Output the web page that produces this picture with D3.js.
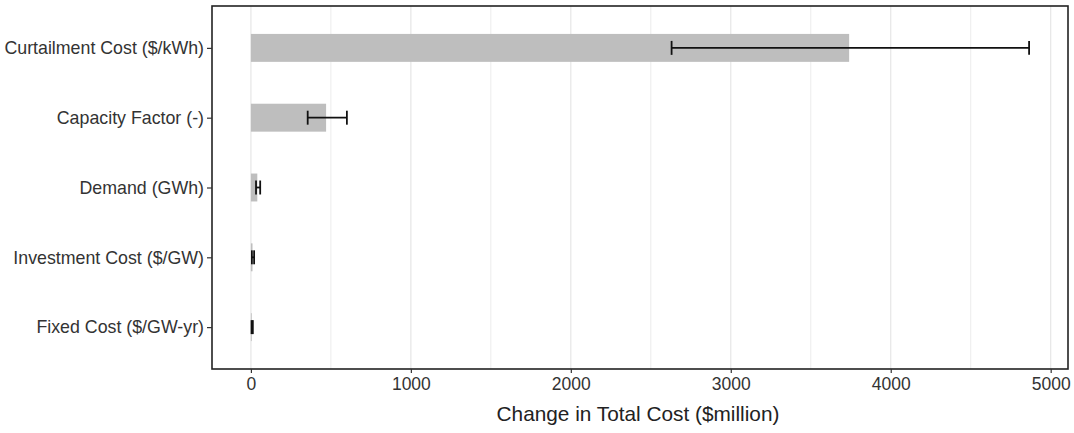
<!DOCTYPE html>
<html>
<head>
<meta charset="utf-8">
<script src="https://cdn.jsdelivr.net/npm/d3@7"></script>
<style>
  body { margin: 0; background: #fff; }
  text { font-family: "Liberation Sans", Arial, sans-serif; }
</style>
</head>
<body>
<div id="chart"></div>
<script>
// values
const categories = [
  "Curtailment Cost ($/kWh)",
  "Capacity Factor (-)",
  "Demand (GWh)",
  "Investment Cost ($/GW)",
  "Fixed Cost ($/GW-yr)"
];
const changeValues = [3740, 470, 40, 10, 5];
const errLow = [2630, 355, 32, 6, 4];
const errHigh = [4865, 600, 58, 20, 12];
const xTicks = [0, 1000, 2000, 3000, 4000, 5000];
const xMinor = [500, 1500, 2500, 3500, 4500];

const data = categories.map(function (c, i) {
  return { name: c, value: changeValues[i], lo: errLow[i], hi: errHigh[i] };
});

const W = 1074, H = 433;
const margin = { top: 6, right: 6, bottom: 64, left: 212 };
const width = W - margin.left - margin.right;
const height = H - margin.top - margin.bottom;

const svg = d3.select("#chart").append("svg")
  .attr("width", W)
  .attr("height", H);

const g = svg.append("g")
  .attr("transform", `translate(${margin.left},${margin.top})`);

// ggplot-like 5% expansion on the continuous axis
const xmax = d3.max(errHigh);
const x = d3.scaleLinear()
  .domain([-0.05 * xmax, xmax * 1.05])
  .range([0, width]);

// discrete axis with 0.6 expansion each side
const y = d3.scalePoint()
  .domain(categories)
  .range([0, height])
  .padding(0.6);
const step = y.step();

// grid
g.selectAll(".minor")
  .data(xMinor)
  .join("line")
  .attr("x1", d => x(d)).attr("x2", d => x(d))
  .attr("y1", 0).attr("y2", height)
  .attr("stroke", "#ececec")
  .attr("stroke-width", 1);

g.selectAll(".major")
  .data(xTicks)
  .join("line")
  .attr("x1", d => x(d)).attr("x2", d => x(d))
  .attr("y1", 0).attr("y2", height)
  .attr("stroke", "#e6e6e6")
  .attr("stroke-width", 1.2);

// bars
g.selectAll(".bar")
  .data(data)
  .join("rect")
  .attr("x", x(0))
  .attr("y", d => y(d.name) - step * 0.2)
  .attr("width", d => x(d.value) - x(0))
  .attr("height", step * 0.4)
  .attr("fill", "#bebebe");

// error bars
const capH = step * 0.1;
const eb = g.selectAll(".err")
  .data(data)
  .join("g")
  .attr("stroke", "#111")
  .attr("stroke-width", 1.8);

eb.append("line")
  .attr("x1", d => x(d.lo)).attr("x2", d => x(d.hi))
  .attr("y1", d => y(d.name)).attr("y2", d => y(d.name));
eb.append("line")
  .attr("x1", d => x(d.lo)).attr("x2", d => x(d.lo))
  .attr("y1", d => y(d.name) - capH).attr("y2", d => y(d.name) + capH);
eb.append("line")
  .attr("x1", d => x(d.hi)).attr("x2", d => x(d.hi))
  .attr("y1", d => y(d.name) - capH).attr("y2", d => y(d.name) + capH);

// panel border
g.append("rect")
  .attr("x", 0).attr("y", 0)
  .attr("width", width).attr("height", height)
  .attr("fill", "none")
  .attr("stroke", "#222")
  .attr("stroke-width", 1.6);

// axes
const xAxis = g.append("g")
  .attr("transform", `translate(0,${height})`)
  .call(d3.axisBottom(x).tickValues(xTicks).tickSize(4).tickPadding(5).tickFormat(d3.format("d")));
xAxis.select(".domain").remove();
xAxis.selectAll("line").attr("stroke", "#333").attr("stroke-width", 1.2);
xAxis.selectAll("text").attr("fill", "#333").style("font-size", "17.5px");

const yAxis = g.append("g")
  .call(d3.axisLeft(y).tickSize(5).tickPadding(3));
yAxis.select(".domain").remove();
yAxis.selectAll("line").attr("stroke", "#333").attr("stroke-width", 1.2);
yAxis.selectAll("text").attr("fill", "#333").style("font-size", "17.8px");

// axis title
svg.append("text")
  .attr("x", 638)
  .attr("y", 421)
  .attr("text-anchor", "middle")
  .attr("fill", "#222")
  .style("font-size", "20.8px")
  .text("Change in Total Cost ($million)");
</script>
</body>
</html>
